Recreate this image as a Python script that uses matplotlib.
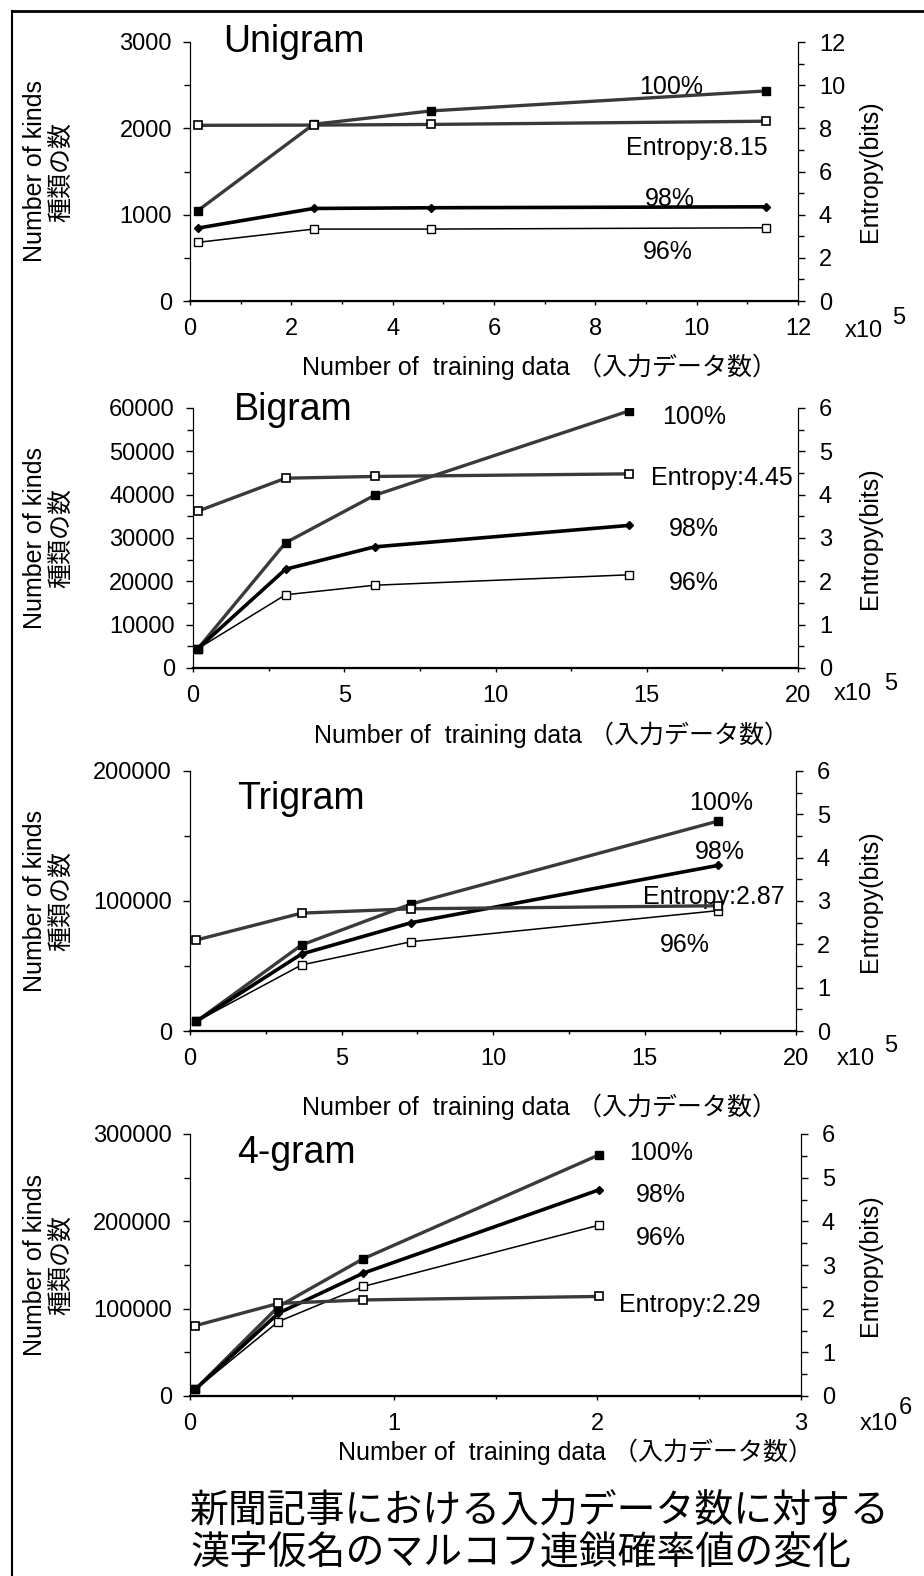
import matplotlib
matplotlib.use("Agg")
import matplotlib.pyplot as plt
from matplotlib.lines import Line2D
from matplotlib.ticker import MultipleLocator

plt.rcParams["font.family"] = ["Liberation Sans", "Noto Sans CJK JP", "DejaVu Sans"]

W, H = 924, 1576

# ---- data: x in units of the axis multiplier (x10^5 or x10^6) ----
uni_x = [0.15, 2.44, 4.76, 11.36]
uni_100 = [1045, 2047, 2202, 2433]
uni_98 = [844, 1072, 1080, 1091]
uni_96 = [679, 833, 833, 848]
uni_ent = [8.14, 8.15, 8.18, 8.33]

bi_x = [0.16, 3.06, 6.0, 14.4]
bi_100 = [4460, 28900, 39850, 59300]
bi_98 = [4460, 22800, 27950, 32900]
bi_96 = [4460, 16900, 19100, 21500]
bi_ent = [3.62, 4.38, 4.42, 4.48]

tri_x = [0.21, 3.68, 7.30, 17.43]
tri_100 = [7400, 66150, 97700, 161500]
tri_98 = [7400, 59200, 83300, 127400]
tri_96 = [7400, 50800, 68700, 92600]
tri_ent = [2.10, 2.72, 2.82, 2.89]

four_x = [0.026, 0.434, 0.85, 2.01]
four_100 = [7600, 102400, 157100, 276300]
four_98 = [7600, 94800, 140600, 236200]
four_96 = [7600, 85200, 125400, 195700]
four_ent = [1.61, 2.12, 2.20, 2.28]

names = ["Unigram", "Bigram", "Trigram", "4-gram"]
entropy_labels = ["Entropy:8.15", "Entropy:4.45", "Entropy:2.87", "Entropy:2.29"]
exponents = ["5", "5", "5", "6"]
xlabel = "Number of  training data （入力データ数）"
ylabel = "Number of kinds\n種類の数"
caption = "新聞記事における入力データ数に対する\n漢字仮名のマルコフ連鎖確率値の変化"


def fx(px):
    return px / W


def fy(py):
    return 1 - py / H


fig = plt.figure(figsize=(W / 100, H / 100), dpi=100)

# frame of the scanned page
fig.add_artist(Line2D([fx(12), 1], [fy(11), fy(11)], color="black", lw=2))
fig.add_artist(Line2D([fx(12), fx(12)], [fy(11), 0], color="black", lw=1.5))

panels = [
    dict(box=(190, 42, 798, 301), x=uni_x, y100=uni_100, y98=uni_98, y96=uni_96, ent=uni_ent,
         xlim=12, xmaj=2, xmin=1, ylim=3000, ymaj=1000, ymin=500, elim=12, emaj=2, emin=1,
         title=(223, 52), xl=(539, 367), x10=(845, 337), ex=(892, 324),
         lab100=(9.49, 2479), lab98=(9.47, 1181), lab96=(9.44, 568), labent=(10.0, 1772)),
    dict(box=(193, 408, 798, 668), x=bi_x, y100=bi_100, y98=bi_98, y96=bi_96, ent=bi_ent,
         xlim=20, xmaj=5, xmin=2.5, ylim=60000, ymaj=10000, ymin=5000, elim=6, emaj=1, emin=0.5,
         title=(234, 420), xl=(551, 735), x10=(834, 700), ex=(884, 690),
         lab100=(16.56, 57900), lab98=(16.56, 32100), lab96=(16.56, 19600), labent=(17.49, 43850)),
    dict(box=(190, 771, 796, 1031), x=tri_x, y100=tri_100, y98=tri_98, y96=tri_96, ent=tri_ent,
         xlim=20, xmaj=5, xmin=2.5, ylim=200000, ymaj=100000, ymin=50000, elim=6, emaj=1, emin=0.5,
         title=(237, 809), xl=(539, 1107), x10=(837, 1065), ex=(884, 1052),
         lab100=(17.52, 175400), lab98=(17.49, 137700), lab96=(16.34, 66150), labent=(17.29, 103100)),
    dict(box=(190, 1134, 801, 1396), x=four_x, y100=four_100, y98=four_98, y96=four_96, ent=four_ent,
         xlim=3, xmaj=1, xmin=0.5, ylim=300000, ymaj=100000, ymin=50000, elim=6, emaj=1, emin=0.5,
         title=(237, 1163), xl=(575, 1452), x10=(860, 1430), ex=(899, 1414),
         lab100=(2.312, 278200), lab98=(2.312, 230150), lab96=(2.312, 180900), labent=(2.455, 104200)),
]

for i, p in enumerate(panels):
    x0, y0, x1, y1 = p["box"]
    ax = fig.add_axes([fx(x0), fy(y1), fx(x1) - fx(x0), fy(y0) - fy(y1)])
    ax2 = ax.twinx()

    ax.plot(p["x"], p["y100"], color="#3a3a3a", lw=2.4, marker="s", ms=6,
            mfc="black", mec="black", zorder=4)
    ax.plot(p["x"], p["y98"], color="black", lw=2.6, marker="D", ms=4,
            mfc="black", mec="black", zorder=5)
    ax.plot(p["x"], p["y96"], color="black", lw=1.1, marker="s", ms=5.5,
            mfc="white", mec="black", mew=1, zorder=3)
    ax2.plot(p["x"], p["ent"], color="#3a3a3a", lw=2.4, marker="s", ms=6,
             mfc="white", mec="black", mew=1.2, zorder=4)

    ax.set_xlim(0, p["xlim"])
    ax.set_ylim(0, p["ylim"])
    ax2.set_ylim(0, p["elim"])

    ax.xaxis.set_major_locator(MultipleLocator(p["xmaj"]))
    ax.xaxis.set_minor_locator(MultipleLocator(p["xmin"]))
    ax.yaxis.set_major_locator(MultipleLocator(p["ymaj"]))
    ax.yaxis.set_minor_locator(MultipleLocator(p["ymin"]))
    ax2.yaxis.set_major_locator(MultipleLocator(p["emaj"]))
    ax2.yaxis.set_minor_locator(MultipleLocator(p["emin"]))
    ax.xaxis.set_major_formatter(matplotlib.ticker.FuncFormatter(lambda v, _: f"{v:g}"))

    for a in (ax, ax2):
        a.spines["top"].set_visible(False)
        a.tick_params(which="major", direction="out", length=5, width=1, labelsize=17)
        a.tick_params(which="minor", direction="out", length=4, width=1)
    ax.tick_params(axis="y", pad=8)
    ax.tick_params(axis="x", which="major", length=3, pad=9)
    ax.tick_params(axis="x", which="minor", length=2)
    ax2.tick_params(axis="y", pad=10)
    ax.spines["bottom"].set_linewidth(1.6)

    ax.text((p["title"][0] - x0) / (x1 - x0), (y1 - p["title"][1]) / (y1 - y0),
            names[i], transform=ax.transAxes, fontsize=27, ha="left", va="baseline")

    ax.text(*p["lab100"], "100%", fontsize=18, ha="center", va="center")
    ax.text(*p["lab98"], "98%", fontsize=18, ha="center", va="center")
    ax.text(*p["lab96"], "96%", fontsize=18, ha="center", va="center")
    ax.text(*p["labent"], entropy_labels[i], fontsize=18, ha="center", va="center")

    yc = (y0 + y1) / 2
    fig.text(fx(48), fy(yc), ylabel, rotation=90, ha="center", va="center",
             fontsize=18, linespacing=1.1, multialignment="center")
    fig.text(fx(870), fy(yc), "Entropy(bits)", rotation=90, ha="center", va="center",
             fontsize=18)
    fig.text(fx(p["xl"][0]), fy(p["xl"][1]), xlabel, ha="center", va="center", fontsize=18)
    fig.text(fx(p["x10"][0]), fy(p["x10"][1]), "x10", ha="left", va="baseline", fontsize=17)
    fig.text(fx(p["ex"][0]), fy(p["ex"][1]), exponents[i], ha="left", va="baseline", fontsize=17)

fig.text(fx(190), fy(1533), caption, ha="left", va="center", fontsize=28, linespacing=1.15)

fig.savefig("out.png", dpi=100)
